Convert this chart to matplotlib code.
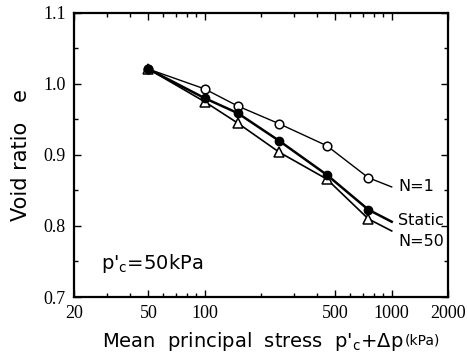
import matplotlib
matplotlib.use("Agg")
import matplotlib.pyplot as plt
from matplotlib.ticker import LogLocator, FixedLocator, NullFormatter, MultipleLocator

# mean principal stress (kPa) and void ratio
p_n1 = [50, 100, 150, 250, 450, 750]
e_n1 = [1.021, 0.993, 0.969, 0.944, 0.913, 0.868]
p_static = [50, 100, 150, 250, 450, 750]
e_static = [1.021, 0.980, 0.959, 0.920, 0.872, 0.823]
p_n50 = [50, 100, 150, 250, 450, 750]
e_n50 = [1.021, 0.975, 0.945, 0.904, 0.866, 0.810]

# where the drawn curves stop, next to their labels
p_end = 1000
e_end_n1 = 0.855
e_end_static = 0.806
e_end_n50 = 0.793

x_ticks = [20, 50, 100, 500, 1000, 2000]
y_ticks = [0.7, 0.8, 0.9, 1.0, 1.1]

serif = "Liberation Serif"
sans = "DejaVu Sans"

fig = plt.figure(figsize=(4.67, 3.6), dpi=100)
ax = fig.add_axes([0.1585, 0.175, 0.8008, 0.789])

ax.plot(p_n1 + [p_end], e_n1 + [e_end_n1], color="black", lw=1.0)
ax.plot(p_static + [p_end], e_static + [e_end_static], color="black", lw=1.8)
ax.plot(p_n50 + [p_end], e_n50 + [e_end_n50], color="black", lw=1.2)

ax.plot(p_n1, e_n1, "o", ms=6.2, mfc="white", mec="black", mew=1.1, ls="none")
ax.plot(p_n50, e_n50, "^", ms=6.5, mfc="white", mec="black", mew=1.1, ls="none")
ax.plot(p_static, e_static, "o", ms=6, mfc="black", mec="black", ls="none")

ax.set_xscale("log")
ax.set_xlim(20, 2000)
ax.set_ylim(0.7, 1.1)
ax.xaxis.set_major_locator(FixedLocator(x_ticks))
ax.xaxis.set_minor_locator(LogLocator(base=10, subs=range(2, 10)))
ax.xaxis.set_minor_formatter(NullFormatter())
ax.set_xticklabels([str(t) for t in x_ticks], fontfamily=serif, fontsize=13)
ax.yaxis.set_major_locator(FixedLocator(y_ticks))
ax.yaxis.set_minor_locator(MultipleLocator(0.05))
ax.set_yticklabels(["%.1f" % t for t in y_ticks], fontfamily=serif, fontsize=13)

ax.tick_params(which="both", direction="in", top=True, right=True, width=1.0)
ax.tick_params(which="major", length=5, pad=6)
ax.tick_params(which="minor", length=3)
for s in ax.spines.values():
    s.set_linewidth(1.6)

ax.text(1080, e_end_n1, "N=1", fontsize=11.5, va="center", family=sans)
ax.text(1080, 0.808, "Static", fontsize=11.5, va="center", family=sans)
ax.text(1080, 0.778, "N=50", fontsize=11.5, va="center", family=sans)
ax.text(28, 0.747, r"p$'_{\rm c}$=50kPa", fontsize=14, va="center", family=sans)

# x label: main part, then a smaller "(kPa)" right after it
xl = fig.text(0.218, 0.035, r"Mean  principal  stress  p$'_{\rm c}$+Δp",
              fontsize=14, family=sans, ha="left", va="baseline")
ax.annotate("(kPa)", xy=(1, 0), xycoords=xl, xytext=(1, 4), textcoords="offset points",
            fontsize=10, family=sans, ha="left", va="bottom", annotation_clip=False)
ax.set_ylabel("Void ratio   e", fontsize=15, labelpad=9, family=sans)

fig.savefig("out.png", dpi=100)
